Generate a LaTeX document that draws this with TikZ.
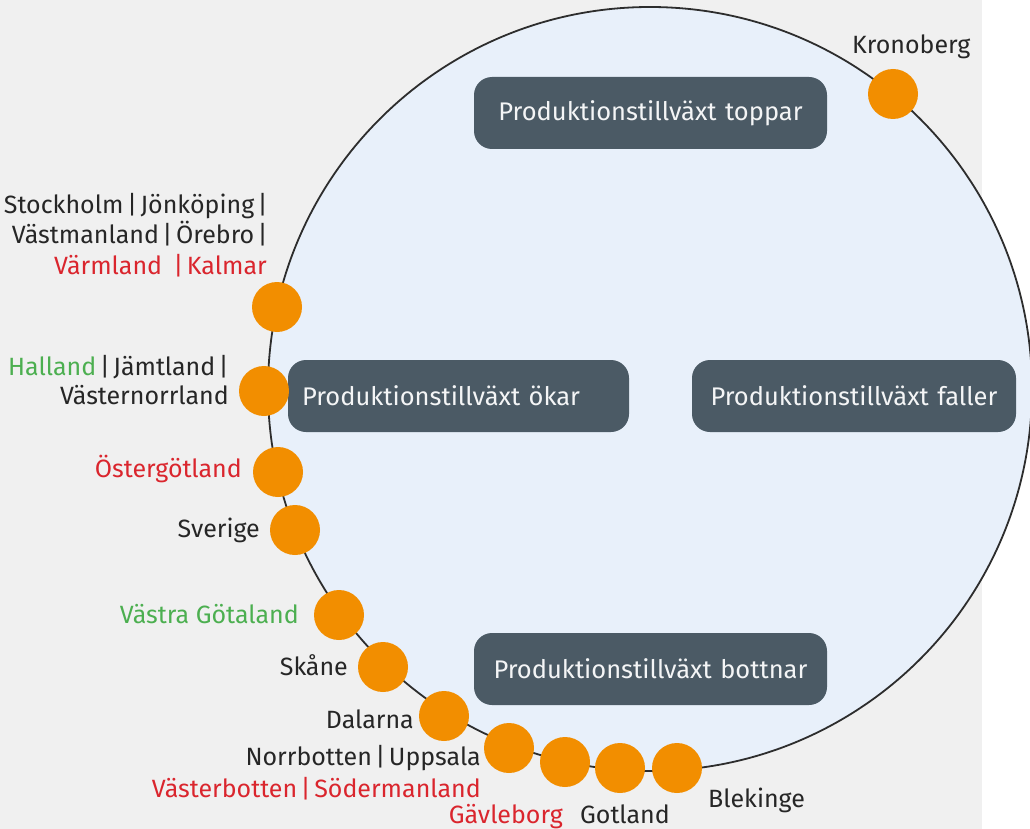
\documentclass[tikz,border=0pt]{standalone}
\usepackage{fontspec}
\setmainfont{Fira Sans}
\definecolor{bg}{RGB}{240,240,240}
\definecolor{circfill}{RGB}{232,240,250}
\definecolor{circline}{RGB}{45,45,45}
\definecolor{dotor}{RGB}{242,142,0}
\definecolor{boxc}{RGB}{75,90,101}
\definecolor{txt}{RGB}{38,38,38}
\definecolor{redt}{RGB}{218,37,45}
\definecolor{greent}{RGB}{76,175,80}
\newcommand{\sepbar}{\hspace{0.14em}|\hspace{0.14em}}
\newcommand{\lastbar}{\hspace{0.14em}|}
\begin{document}
\begin{tikzpicture}[x=1pt,y=-1pt,
  dot/.style={circle,fill=dotor,minimum size=50pt,inner sep=0pt},
  phase/.style={rectangle,rounded corners=18pt,fill=boxc,text=white!94!boxc,
    font=\fontsize{25.5}{28}\selectfont,minimum height=72pt,inner ysep=0pt,inner xsep=0pt,align=center},
  lbl/.style={font=\fontsize{25}{30.5}\selectfont,text=txt,inner sep=0pt,align=right},
]
\useasboundingbox (0,0) rectangle (1030,829);
\clip (0,0) rectangle (1030,829);
\fill[bg] (0,0) rectangle (982,829);
\draw[fill=circfill,draw=circline,line width=1.8pt] (650,389) circle[radius=382];

% phase boxes
\node[phase,text width=353pt] (top) at (650.5,113) {Produktionstillväxt toppar};
\node[phase,text width=313pt,inner xsep=14pt,align=left] (up) at (458.5,396) {Produktionstillväxt ökar};
\node[phase,text width=324pt] (down) at (854,396) {Produktionstillväxt faller};
\node[phase,text width=353pt] (bottom) at (650.5,669) {Produktionstillväxt bottnar};

% dots
\node[dot] (kro) at (893,94) {};
\node[dot] (sth) at (277,307) {};
\node[dot] (hal) at (264,391) {};
\node[dot] (ost) at (278,472) {};
\node[dot] (sve) at (295,530) {};
\node[dot] (vg) at (339,615) {};
\node[dot] (ska) at (383,667) {};
\node[dot] (dal) at (444,716) {};
\node[dot] (nor) at (509,748) {};
\node[dot] (gav) at (565,762) {};
\node[dot] (got) at (620,768) {};
\node[dot] (ble) at (677,768) {};

% labels
\node[lbl,anchor=base west] (lkro) at (852,54) {Kronoberg};
\node[lbl,anchor=base east] (lsth1) at (268,213) {Stockholm\sepbar Jönköping\lastbar};
\node[lbl,anchor=base east] (lsth2) at (268,243.5) {Västmanland\sepbar Örebro\lastbar};
\node[lbl,anchor=base east,text=redt] (lsth3) at (267,274) {Värmland\hspace{0.45em}|\hspace{0.14em}Kalmar};
\node[lbl,anchor=base east] (lhal1) at (229,375) {\textcolor{greent}{Halland}\sepbar Jämtland\lastbar};
\node[lbl,anchor=base east] (lhal2) at (229,404) {Västernorrland};
\node[lbl,anchor=base east,text=redt] (lost) at (242,477) {Östergötland};
\node[lbl,anchor=base east] (lsve) at (260,537) {Sverige};
\node[lbl,anchor=base east,text=greent] (lvg) at (299,623) {Västra Götaland};
\node[lbl,anchor=base east] (lska) at (348,675) {Skåne};
\node[lbl,anchor=base east] (ldal) at (414,728) {Dalarna};
\node[lbl,anchor=base east] (lnor) at (481,765) {Norrbotten\sepbar Uppsala};
\node[lbl,anchor=base east,text=redt] (lvb) at (481,797) {Västerbotten\sepbar Södermanland};
\node[lbl,anchor=base east,text=redt] (lgav) at (563,823) {Gävleborg};
\node[lbl,anchor=base west] (lgot) at (580,823) {Gotland};
\node[lbl,anchor=base west] (lble) at (708,807) {Blekinge};
\end{tikzpicture}
\end{document}
